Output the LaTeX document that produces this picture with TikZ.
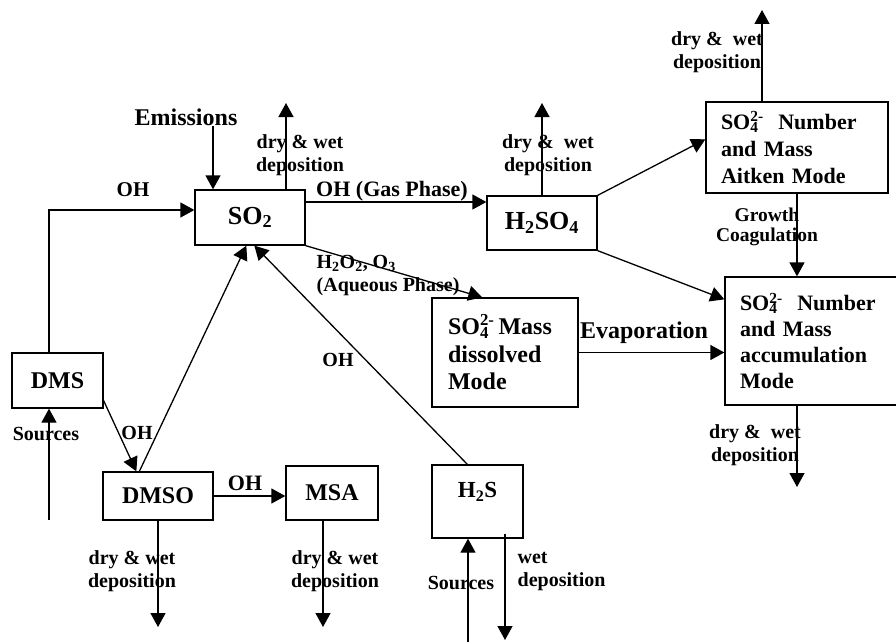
\documentclass[tikz,border=0pt]{standalone}
\usepackage{fontspec}
\setmainfont{Liberation Serif}
\usetikzlibrary{arrows.meta,calc}
\newcommand{\fs}[2]{\fontsize{#1}{#2}\selectfont}
\newcommand{\sofour}{SO\rlap{\textsubscript{4}}\textsuperscript{2-}}
\begin{document}
\begin{tikzpicture}[x=1pt,y=-1pt,line width=1.3pt,
  >={Triangle[length=14pt,width=15pt]},
  box/.style={draw,line width=1.3pt,inner sep=0pt,font=\bfseries\fs{24}{27}},
  lbl/.style={inner sep=0pt,font=\bfseries\fs{20}{23},align=center}]
\useasboundingbox (0,0) rectangle (896,642);
% boxes
\node[box,minimum width=110,minimum height=55,font=\bfseries\fs{26}{28}] (so2) at (250,217.5) {SO\textsubscript{2}};
\node[box,minimum width=110,minimum height=54,font=\bfseries\fs{26}{28}] (h2so4) at (542,223) {H\textsubscript{2}SO\textsubscript{4}};
\node[box,minimum width=182,minimum height=91,text width=152,align=left,font=\bfseries\fs{22}{27}] (ait) at (797,147.5) {\sofour{}\ \ Number\\and Mass\\Aitken Mode};
\node[box,minimum width=175,minimum height=128,text width=145,align=left,font=\bfseries\fs{22}{26}] (acc) at (812.5,341) {\sofour{}\ \ Number\\and Mass\\accumulation\\Mode};
\node[box,minimum width=146,minimum height=109,text width=114,align=left,font=\bfseries\fs{24}{27.5}] (dis) at (505,352.5) {\sofour{}\,Mass\\dissolved\\Mode};
\node[box,minimum width=91,minimum height=55] (dms) at (57.5,380.5) {DMS};
\node[box,minimum width=110,minimum height=48] (dmso) at (158,496) {DMSO};
\node[box,minimum width=92,minimum height=54] (msa) at (332,493) {MSA};
\node[box,minimum width=91,minimum height=73,align=center,font=\bfseries\fs{23}{23}] (h2s) at (477.5,501.5) {H\textsubscript{2}S\\\mbox{}};
% labels
\node[lbl,font=\bfseries\fs{24}{27}] (em) at (186,117) {Emissions};
\node[lbl] (d1) at (300,155) {dry \& wet\\deposition};
\node[lbl] (d2) at (548,155) {dry \&\ \ wet\\deposition};
\node[lbl] (d3) at (717,52.5) {dry \&\ \ wet\\deposition};
\node[lbl] (d4) at (755,445.5) {dry \&\ \ wet\\deposition};
\node[lbl] (d5) at (132,571.5) {dry \& wet\\deposition};
\node[lbl] (d6) at (335,571.5) {dry \& wet\\deposition};
\node[lbl,anchor=west,align=left] (d7) at (517,571.5) {wet\\deposition};
\node[lbl,font=\bfseries\fs{21}{23}] (ohl) at (133,190) {OH};
\node[lbl,font=\bfseries\fs{22}{24}] (gl) at (392,191) {OH (Gas Phase)};
\node[lbl,anchor=west,align=left] (aql) at (316,275.5) {H\textsubscript{2}O\textsubscript{2}, O\textsubscript{3}\\(Aqueous Phase)};
\node[lbl,font=\bfseries\fs{19.5}{20}] (gr) at (767,227) {Growth\\Coagulation};
\node[lbl,font=\bfseries\fs{24}{27}] (ev) at (644,333) {Evaporation};
\node[lbl] (src1) at (46,434) {Sources};
\node[lbl] (src2) at (461,583) {Sources};
\node[lbl] (oh2) at (137,433) {OH};
\node[lbl,font=\bfseries\fs{22}{24}] (oh3) at (245,483) {OH};
\node[lbl] (oh4) at (338,360) {OH};
% helper coordinates
\coordinate (c1) at (213,0);
\coordinate (t1) at (286,103);
\coordinate (g) at (0,202);
\coordinate (t2) at (542,103);
\coordinate (t3) at (762,10);
\coordinate (t4) at (797,487);
\coordinate (k) at (49,210);
\coordinate (s1) at (49,520);
\coordinate (t5) at (158,627);
\coordinate (t6) at (323,627);
\coordinate (s2) at (468,642);
\coordinate (t7) at (505,640);
% connectors
\draw[->] (em.south -| c1) -- (so2.north -| c1);
\draw[->] (so2.north -| t1) -- (t1);
\draw[->] (so2.east |- g) -- (h2so4.west |- g);
\draw[->] (so2.south east) -- ($(dis.north west)+(51,0)$);
\draw[->] (h2so4.north) -- (h2so4.north |- t2);
\draw[->] (h2so4.north east) -- ($(ait.north west)+(0,38)$);
\draw[->] (h2so4.south east) -- ($(acc.north west)+(0,23)$);
\draw[->] (ait.north -| t3) -- (t3);
\draw[->] (ait.south) -- (ait.south |- acc.north);
\draw[->] (dis.east) -- (dis.east -| acc.west);
\draw[->] (acc.south -| t4) -- (t4);
\draw[->] (dms.north -| k) -- (k) -- (so2.west |- k);
\draw[->] (s1) -- (dms.south -| s1);
\draw[->] ($(dms.south east)+(0,-8)$) -- ($(dmso.north west)+(34,0)$);
\draw[->] ($(dmso.north west)+(37,0)$) -- ($(so2.south west)+(52,0)$);
\draw[->] ($(h2s.north west)+(36,0)$) -- ($(so2.south west)+(60,0)$);
\draw[->] (dmso.east) -- (dmso.east -| msa.west);
\draw[->] (dmso.south) -- (t5);
\draw[->] (msa.south -| t6) -- (t6);
\draw[->] (s2) -- (h2s.south -| s2);
\draw[->] ($(h2s.south -| t7)+(0,-5)$) -- (t7);
\end{tikzpicture}
\end{document}
